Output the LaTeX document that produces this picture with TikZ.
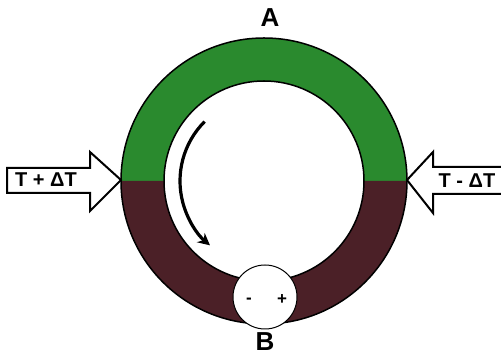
\documentclass[tikz,border=0pt]{standalone}
\usepackage{fontspec}
\setmainfont{Liberation Sans}
\usetikzlibrary{arrows.meta}
\definecolor{ringgreen}{HTML}{2A8A2E}
\definecolor{ringmaroon}{HTML}{4B2027}
\tikzset{
  blockarrow/.style={draw=black, line width=2pt, fill=white, line join=miter},
  lbl/.style={font=\bfseries\fontsize{20}{20}\selectfont, inner sep=0pt},
  big/.style={font=\bfseries\fontsize{26}{26}\selectfont, inner sep=0pt},
  sign/.style={font=\bfseries\fontsize{17}{17}\selectfont, inner sep=0pt}
}
\begin{document}
\begin{tikzpicture}[x=1pt,y=1pt]
\useasboundingbox (0,0) rectangle (501,358);
\coordinate (c) at (264,177);
% ring halves
\fill[ringgreen] (121,177) arc[start angle=180,end angle=0,radius=143] -- (364,177) arc[start angle=0,end angle=180,radius=100] -- cycle;
\fill[ringmaroon] (121,177) arc[start angle=180,end angle=360,radius=143] -- (364,177) arc[start angle=360,end angle=180,radius=100] -- cycle;
\draw[line width=1.5pt] (c) circle[radius=143];
\draw[line width=1.5pt] (c) circle[radius=100];
% battery circle
\node[circle, draw=black, line width=1pt, fill=white, minimum size=64pt, inner sep=0pt] (bat) at (265,61) {};
\node[sign] (minus) at (249,57) {-};
\node[sign] (plus) at (282,58) {+};
% labels
\node[big] (A) at (270,340) {A};
\node[big] (B) at (265,16) {B};
% left block arrow
\draw[blockarrow] (7,190) -- (90,190) -- (90,206) -- (121,178) -- (90,147) -- (90,165) -- (7,165) -- cycle;
\node[lbl] (tl) at (46,178) {T + ΔT};
% right block arrow
\draw[blockarrow] (510,191) -- (433,191) -- (433,206) -- (407,178) -- (433,145) -- (433,164) -- (510,164);
\node[lbl] (tr) at (467,177) {T - ΔT};
% circulation arrow
\draw[line width=3.2pt, -{Stealth[length=12pt,width=12pt]}] ([shift={(135:84)}]c) arc[start angle=135,end angle=230,radius=84];
\end{tikzpicture}
\end{document}
